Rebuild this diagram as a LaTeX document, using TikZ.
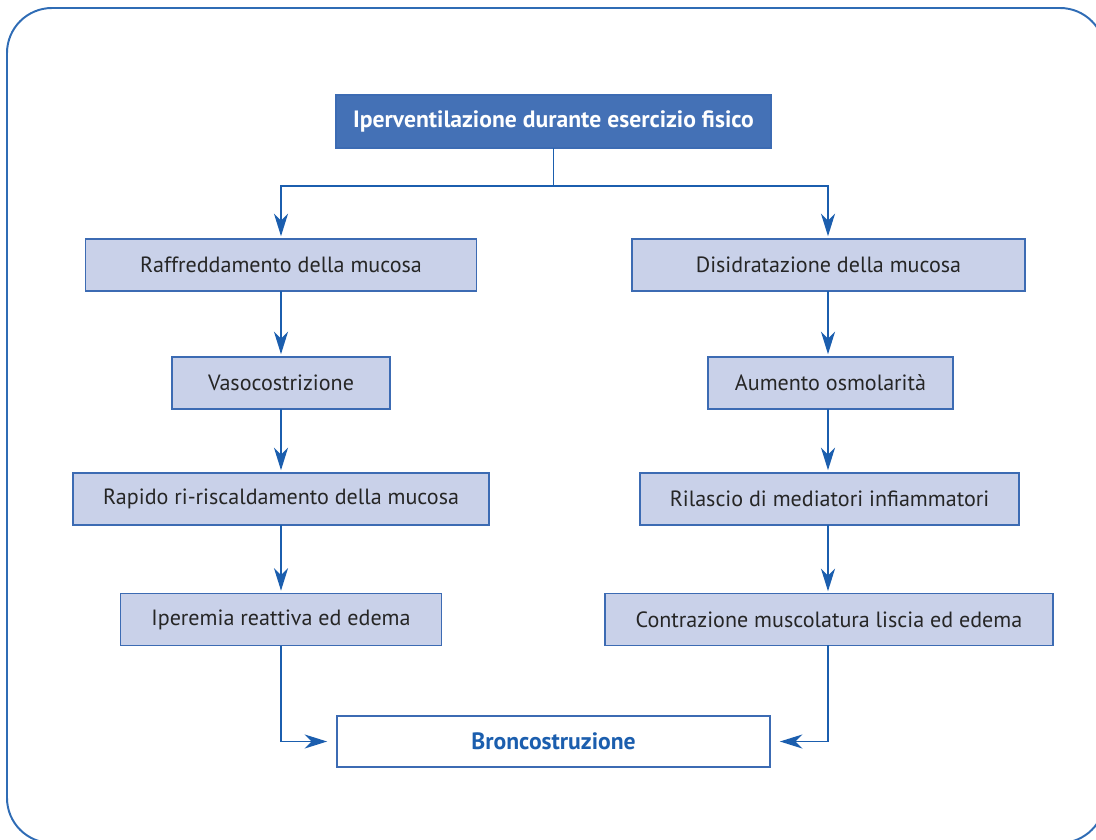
\documentclass[tikz,border=0pt]{standalone}
\usepackage{fontspec}
\setmainfont{PT Sans}
\usetikzlibrary{arrows.meta}
\definecolor{frameblue}{HTML}{2F6CB5}
\definecolor{headblue}{HTML}{4471B6}
\definecolor{boxfill}{HTML}{C9D1E9}
\definecolor{boxline}{HTML}{3C6BB3}
\definecolor{arrowblue}{HTML}{1B5EAE}
\definecolor{textgray}{HTML}{262626}
\tikzset{
  box/.style={draw=boxline, line width=1pt, fill=boxfill, text=textgray,
    minimum height=1.3cm, inner sep=0pt, outer sep=0pt,
    font=\fontsize{15.7}{18}\selectfont},
  headbox/.style={box, fill=headblue, text=white,
    font=\fontsize{16.8}{19}\selectfont\bfseries},
  endbox/.style={box, fill=white, text=arrowblue,
    font=\fontsize{16.8}{19}\selectfont\bfseries},
  flow/.style={draw=arrowblue, line width=1pt,
    -{Stealth[length=16pt,width=10pt,inset=5pt]}, shorten >=2pt},
  feed/.style={draw=arrowblue, line width=1pt},
}
\begin{document}
\begin{tikzpicture}[x=0.025cm, y=-0.025cm]
\useasboundingbox (0,0) rectangle (1096,840);
\clip (0,0) rectangle (1096,840);
\path[draw=frameblue, line width=1.4pt, rounded corners=1.125cm] (7,8) rectangle (1105,843);

\node[headbox, minimum width=10.875cm, minimum height=1.325cm] (iperv) at (553.5,121.5)
 {Iperventilazione durante esercizio fisico};

\node[box, minimum width=9.775cm] (raff) at (281,265) {Raffreddamento della mucosa};
\node[box, minimum width=5.45cm] (vaso) at (281,383) {Vasocostrizione};
\node[box, minimum width=10.4cm] (rapido) at (281,499) {Rapido ri-riscaldamento della mucosa};
\node[box, minimum width=8.025cm] (iperemia) at (281,619.5) {Iperemia reattiva ed edema};

\node[box, minimum width=9.825cm] (disid) at (828.5,265) {Disidratazione della mucosa};
\node[box, minimum width=6.125cm] (osmol) at (830.5,383) {Aumento osmolarità};
\node[box, minimum width=9.475cm] (rilascio) at (829.5,499) {Rilascio di mediatori infiammatori};
\node[box, minimum width=11.2cm] (contraz) at (829,619.5) {Contrazione muscolatura liscia ed edema};

\node[endbox, minimum width=10.825cm, minimum height=1.275cm] (bronco) at (553.5,741.5)
 {Broncostruzione};

\coordinate (split) at (553.5,186);
\draw[feed] (iperv.south) to (split);
\draw[flow] (split) -| (raff.north);
\draw[flow] (split) -| (828,239);

\draw[flow] (raff.south) to (vaso.north);
\draw[flow] (vaso.south) to (rapido.north);
\draw[flow] (rapido.south) to (iperemia.north);

\draw[flow] (828,291) to (828,357);
\draw[flow] (828,409) to (828,473);
\draw[flow] (828,525) to (828,594);

\draw[flow, shorten >=7pt] (iperemia.south) |- (bronco.west);
\draw[flow, shorten >=7pt] (828,645) |- (bronco.east);
\end{tikzpicture}
\end{document}
